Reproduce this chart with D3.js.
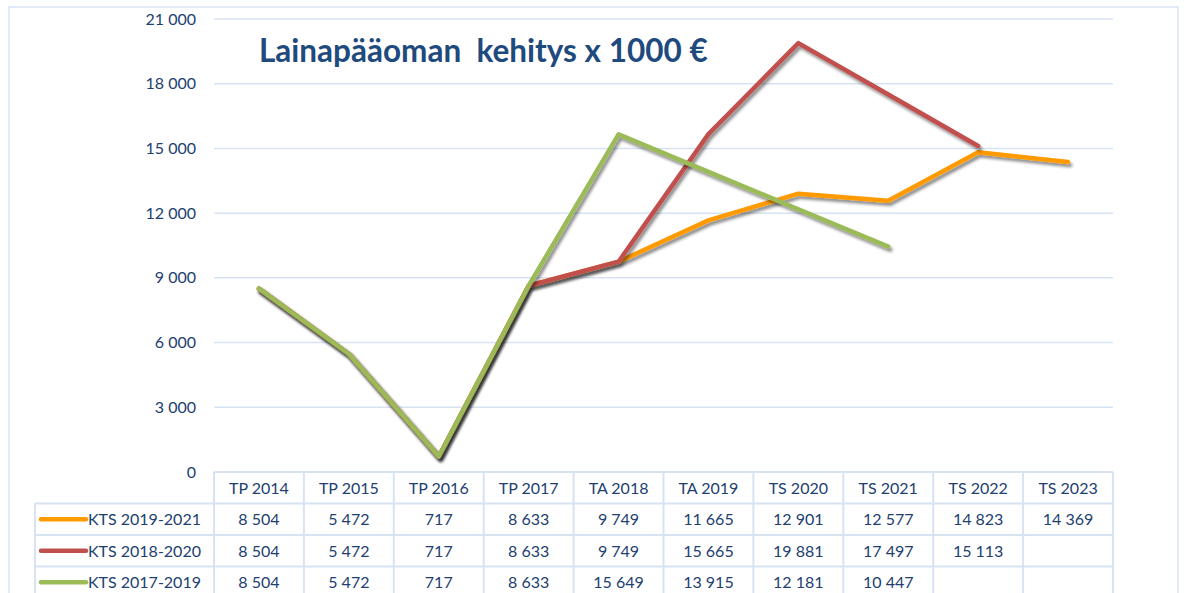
<!DOCTYPE html>
<html><head><meta charset="utf-8">
<script src="https://cdn.jsdelivr.net/npm/d3@7"></script>
<style>
html,body{margin:0;padding:0;background:#fff;}
svg{display:block;font-family:Lato,"Open Sans",sans-serif;}
</style></head>
<body><svg id="c" width="1184" height="593"></svg>
<script>
const categories = ["TP 2014","TP 2015","TP 2016","TP 2017","TA 2018","TA 2019","TS 2020","TS 2021","TS 2022","TS 2023"];
const seriesNames = ["KTS 2019-2021","KTS 2018-2020","KTS 2017-2019"];
const kts2019_2021 = [8504,5472,717,8633,9749,11665,12901,12577,14823,14369];
const kts2018_2020 = [8504,5472,717,8633,9749,15665,19881,17497,15113,null];
const kts2017_2019 = [8504,5472,717,8633,15649,13915,12181,10447,null,null];
const seriesColors = ["#FF9A00","#C0504D","#9BBB59"];
const yTicks = [0,3000,6000,9000,12000,15000,18000,21000];
const title = "Lainapääoman  kehitys x 1000 €";

const series = [kts2019_2021, kts2018_2020, kts2017_2019];
const textColor = "#22406F";
const gridColor = "#D7E3F3";

const loc = d3.formatLocale({decimal:",", thousands:" ", grouping:[3], currency:["","€"]});
const fmt = loc.format(",d");

const svg = d3.select("#c");
const defs = svg.append("defs");
const f = defs.append("filter").attr("id","sh").attr("x","-10%").attr("y","-10%").attr("width","120%").attr("height","130%");
f.append("feDropShadow").attr("dx",2).attr("dy",3).attr("stdDeviation",1.6).attr("flood-color","#000").attr("flood-opacity",0.45);

// outer border
svg.append("rect").attr("x",9).attr("y",7).attr("width",1169).attr("height",600)
  .attr("fill","none").attr("stroke",gridColor).attr("stroke-width",1.5);

const x = d3.scaleBand().domain(categories).range([214,1113]);
const y = d3.scaleLinear().domain([0,21000]).range([472,19]);

// grid + y axis
const yAxis = d3.axisLeft(y).tickValues(yTicks).tickFormat(fmt).tickSize(0).tickPadding(18);
const gy = svg.append("g").attr("transform","translate(214,0)").call(yAxis);
gy.select(".domain").remove();
gy.selectAll("text").attr("fill",textColor).style("font-size","16px").attr("font-family","Lato,sans-serif");
svg.append("g").selectAll("line").data(yTicks.filter(d=>d>0)).join("line")
  .attr("x1",214).attr("x2",1113).attr("y1",d=>y(d)).attr("y2",d=>y(d))
  .attr("stroke",gridColor).attr("stroke-width",1.5);

// title
svg.append("text").attr("x",259).attr("y",62).text(title)
  .attr("fill","#1F4A7E").style("font-size","31.5px").style("font-weight","bold").attr("xml:space","preserve").style("white-space","pre");

// lines
const line = d3.line().defined(d=>d!=null).x((d,i)=>x(categories[i])+x.bandwidth()/2).y(d=>y(d));
svg.append("g").selectAll("path").data(series).join("path")
  .attr("d",d=>line(d)).attr("fill","none")
  .attr("stroke",(d,i)=>seriesColors[i]).attr("stroke-width",4.5)
  .attr("stroke-linejoin","round").attr("stroke-linecap","round")
  .attr("filter","url(#sh)");

// data table
const rowTop = [472,503.5,535,566.5];
const rowH = 31.5;
const tbl = svg.append("g");
const hb = tbl.append("g").attr("stroke",gridColor).attr("stroke-width",2).attr("fill","none");
hb.append("line").attr("x1",214).attr("x2",1113).attr("y1",472).attr("y2",472);
for (let r=1;r<4;r++) hb.append("line").attr("x1",35).attr("x2",1113).attr("y1",rowTop[r]).attr("y2",rowTop[r]);
hb.append("line").attr("x1",35).attr("x2",1113).attr("y1",rowTop[3]+rowH).attr("y2",rowTop[3]+rowH);
hb.append("line").attr("x1",35).attr("x2",35).attr("y1",503.5).attr("y2",600);
categories.forEach(c=>{
  hb.append("line").attr("x1",x(c)).attr("x2",x(c)).attr("y1",472).attr("y2",600);
});
hb.append("line").attr("x1",1113).attr("x2",1113).attr("y1",472).attr("y2",600);

tbl.append("g").selectAll("text").data(categories).join("text")
  .attr("x",d=>x(d)+x.bandwidth()/2).attr("y",rowTop[0]+rowH/2+6)
  .attr("text-anchor","middle").attr("fill",textColor).style("font-size","16px").text(d=>d);

series.forEach((s,si)=>{
  const ry = rowTop[si+1];
  tbl.append("line").attr("x1",41).attr("x2",86).attr("y1",ry+rowH/2).attr("y2",ry+rowH/2)
    .attr("stroke",seriesColors[si]).attr("stroke-width",4.5).attr("stroke-linecap","round");
  tbl.append("text").attr("x",88).attr("y",ry+rowH/2+6).attr("fill",textColor)
    .style("font-size","16px").text(seriesNames[si]);
  tbl.append("g").selectAll("text").data(s).join("text")
    .attr("x",(d,i)=>x(categories[i])+x.bandwidth()/2).attr("y",ry+rowH/2+6)
    .attr("text-anchor","middle").attr("fill",textColor).style("font-size","16px")
    .text(d=>d==null?"":fmt(d));
});
</script>
</body></html>
